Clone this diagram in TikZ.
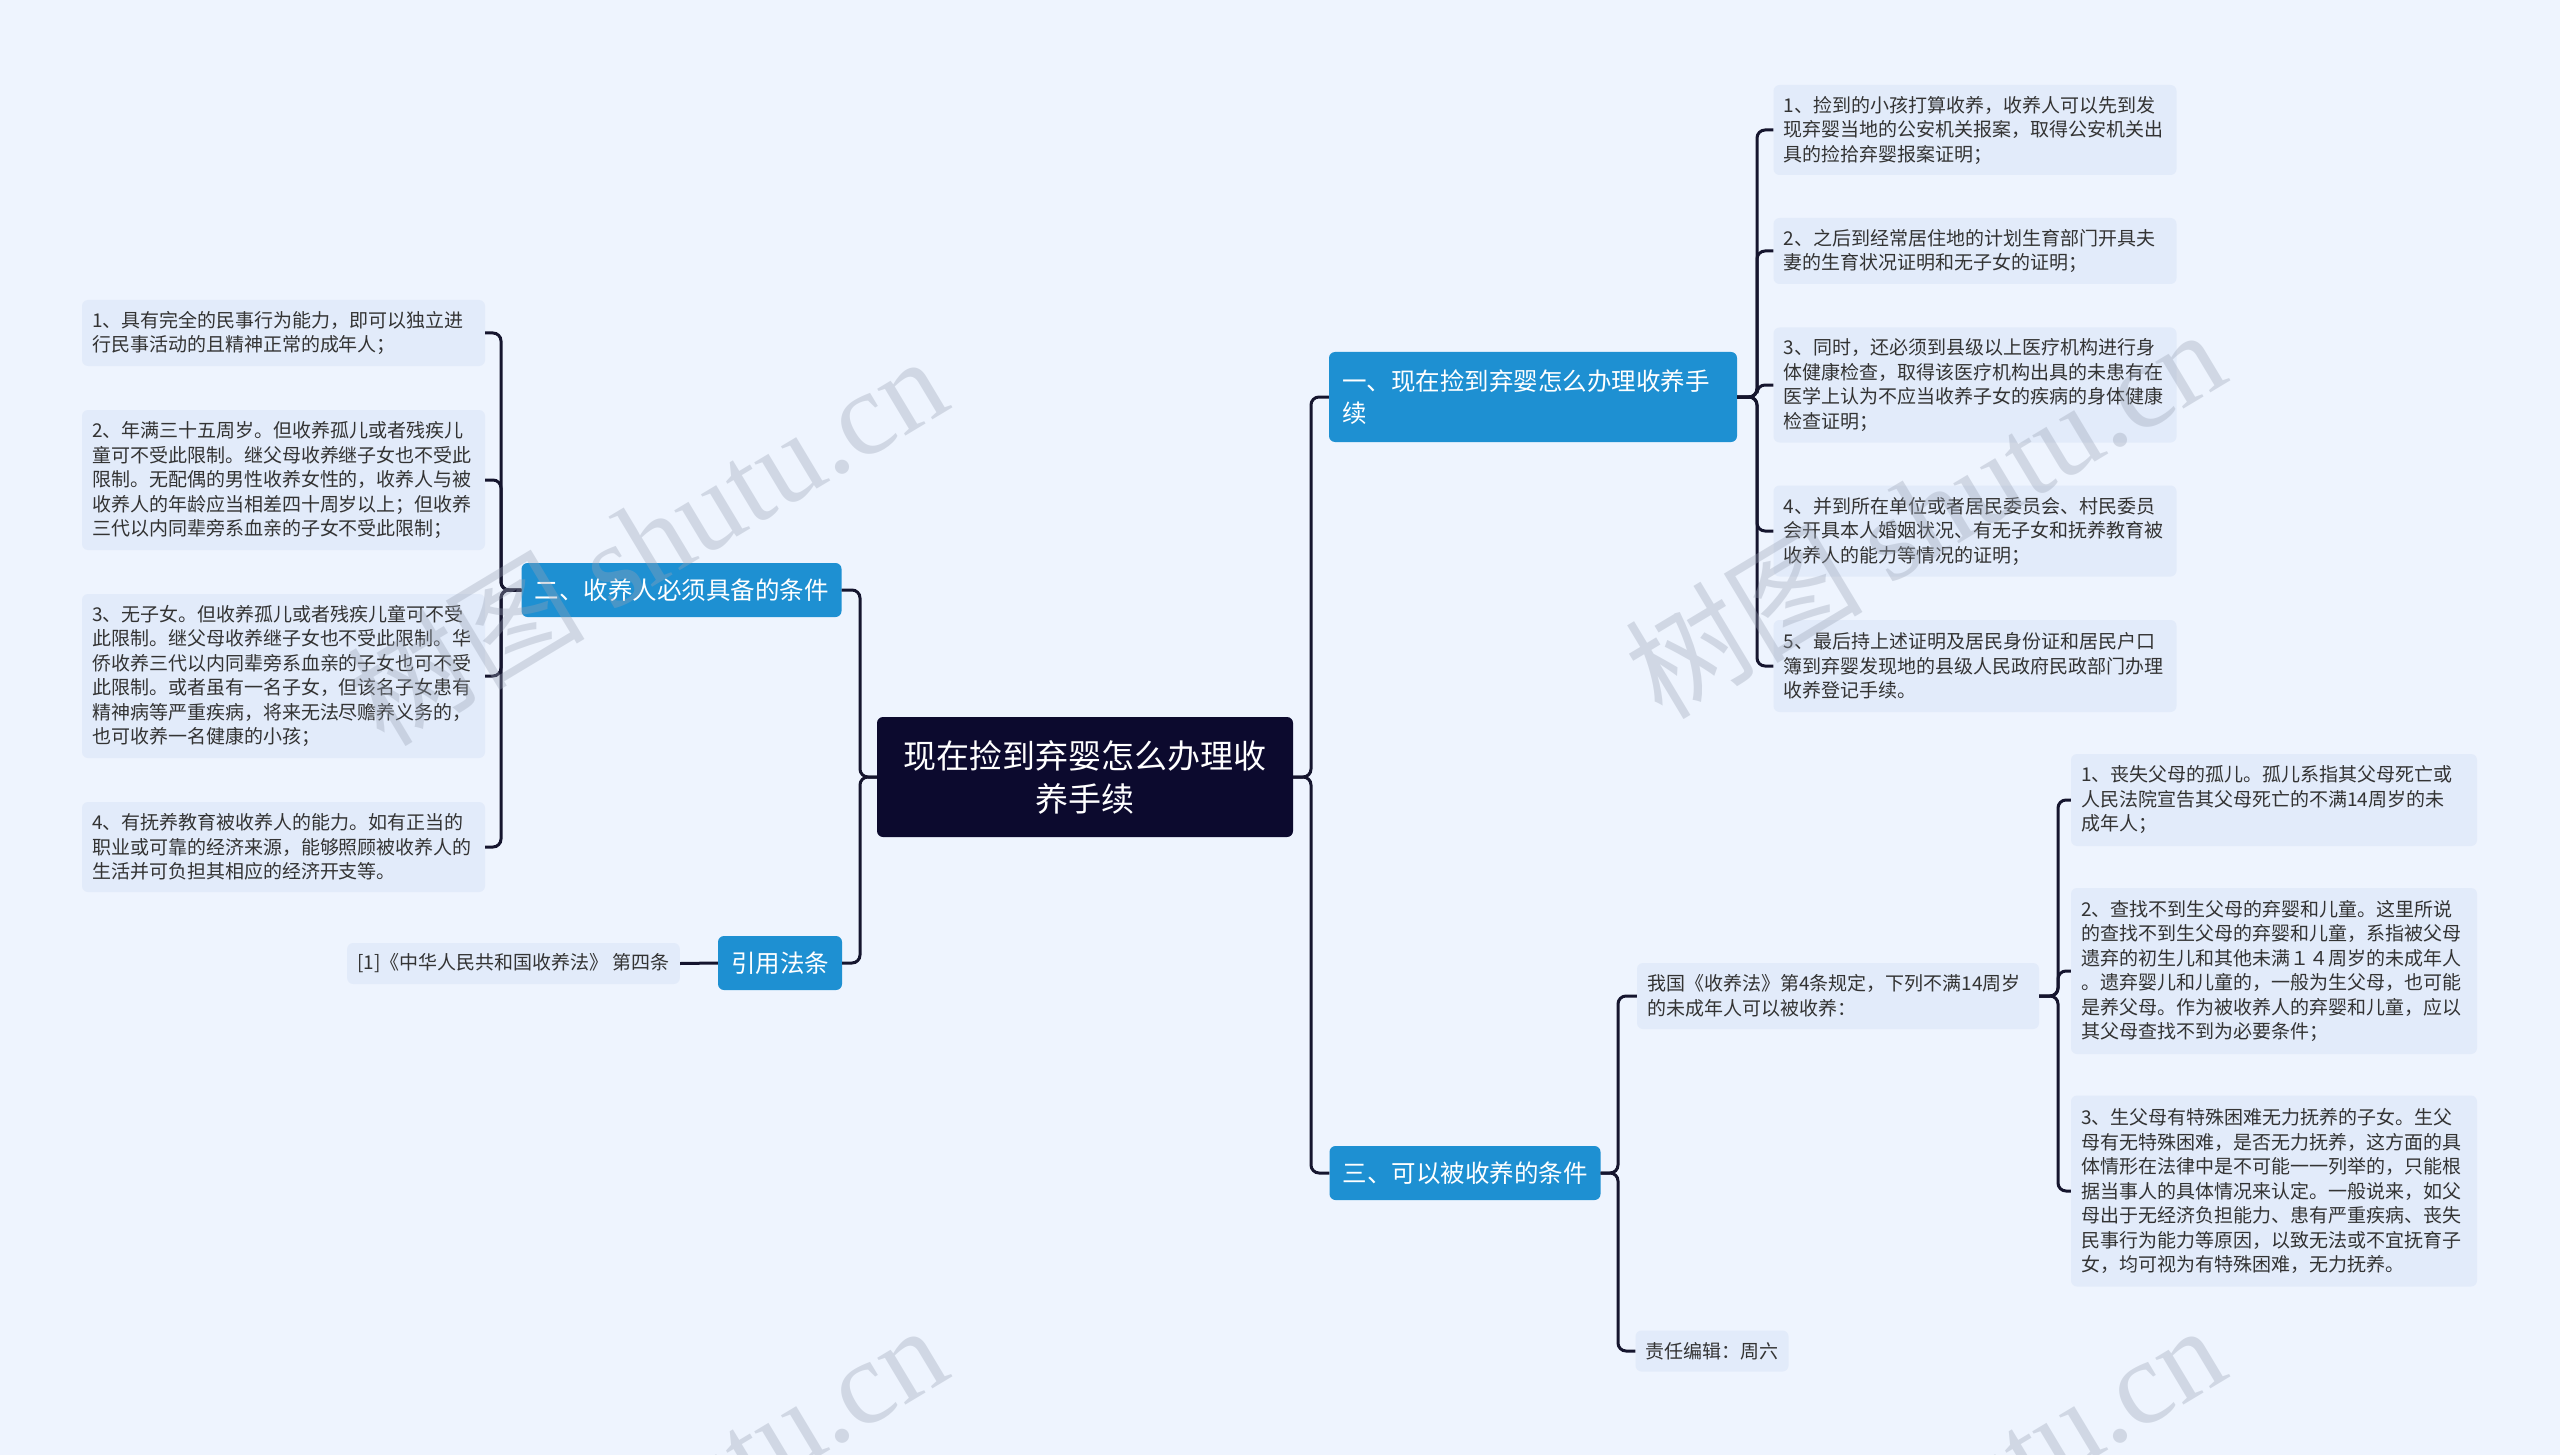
\documentclass[tikz,border=0pt]{standalone}
\usepackage{fontspec}
\setmainfont{Noto Sans CJK SC}
\newfontfamily\wmlatin{Liberation Serif}
\usepackage{xcolor}
\usepackage{tikz}
\definecolor{PageBg}{HTML}{EEF4FE}
\definecolor{LeafFill}{HTML}{E2EBFA}
\definecolor{LeafText}{HTML}{333333}
\definecolor{BranchBlue}{HTML}{1E90D2}
\definecolor{RootNavy}{HTML}{0C0A2E}
\definecolor{LineNavy}{HTML}{15152E}
\definecolor{MarkGray}{HTML}{9AA3B5}

\begin{document}
\begin{tikzpicture}[x=1pt, y=-1pt, root/.style={fill=RootNavy, text=white, rounded corners=6pt, minimum width=416pt, minimum height=120pt, align=center, font=\fontsize{33}{43}\selectfont}, branch/.style={fill=BranchBlue, text=white, rounded corners=6pt, inner xsep=13pt, minimum height=54pt, align=left, font=\fontsize{24.5}{32}\selectfont}, leaf/.style={fill=LeafFill, text=LeafText, rounded corners=6pt, inner xsep=10pt, text width=383pt, align=left, font=\fontsize{19}{24.5}\selectfont}, tag/.style={fill=LeafFill, text=LeafText, rounded corners=6pt, inner xsep=10pt, minimum height=41pt, font=\fontsize{19}{24.5}\selectfont}, conn/.style={draw=LineNavy, line width=3pt, rounded corners=8pt}, wm/.style={text=MarkGray, opacity=0.35, rotate=31, font=\fontsize{119}{119}\selectfont}]
\fill[PageBg] (0,0) rectangle (2560,1455);
\useasboundingbox (0,0) rectangle (2560,1455);
\node[root] (ctr) at (1085,777) {现在捡到弃婴怎么办理收\\养手续};
\node[branch, minimum width=408pt, minimum height=90pt, text width=382pt] (b1) at (1533,397) {一、现在捡到弃婴怎么办理收养手\\续};
\node[branch] (b2) at (681.5,590) {二、收养人必须具备的条件};
\node[branch] (b3) at (1465,1173) {三、可以被收养的条件};
\node[branch] (b4) at (780,963) {引用法条};
% left side
\node[leaf, minimum height=66pt] (l1) at (283.5,333) {1、具有完全的民事行为能力，即可以独立进\\行民事活动的且精神正常的成年人；};
\node[leaf, minimum height=140pt] (l2) at (283.5,480) {2、年满三十五周岁。但收养孤儿或者残疾儿\\童可不受此限制。继父母收养继子女也不受此\\限制。无配偶的男性收养女性的，收养人与被\\收养人的年龄应当相差四十周岁以上；但收养\\三代以内同辈旁系血亲的子女不受此限制；};
\node[leaf, minimum height=164pt] (l3) at (283.5,676) {3、无子女。但收养孤儿或者残疾儿童可不受\\此限制。继父母收养继子女也不受此限制。华\\侨收养三代以内同辈旁系血亲的子女也可不受\\此限制。或者虽有一名子女，但该名子女患有\\精神病等严重疾病，将来无法尽赡养义务的，\\也可收养一名健康的小孩；};
\node[leaf, minimum height=90pt] (l4) at (283.5,847) {4、有抚养教育被收养人的能力。如有正当的\\职业或可靠的经济来源，能够照顾被收养人的\\生活并可负担其相应的经济开支等。};
\node[tag] (cite) at (513.5,963.5) {[1]《中华人民共和国收养法》 第四条};
% right side, first branch
\node[leaf, minimum height=90pt] (r1) at (1975,130) {1、捡到的小孩打算收养，收养人可以先到发\\现弃婴当地的公安机关报案，取得公安机关出\\具的捡拾弃婴报案证明；};
\node[leaf, minimum height=66pt] (r2) at (1975,251) {2、之后到经常居住地的计划生育部门开具夫\\妻的生育状况证明和无子女的证明；};
\node[leaf, minimum height=115pt] (r3) at (1975,385) {3、同时，还必须到县级以上医疗机构进行身\\体健康检查，取得该医疗机构出具的未患有在\\医学上认为不应当收养子女的疾病的身体健康\\检查证明；};
\node[leaf, minimum height=91pt] (r4) at (1975,531) {4、并到所在单位或者居民委员会、村民委员\\会开具本人婚姻状况、有无子女和抚养教育被\\收养人的能力等情况的证明；};
\node[leaf, minimum height=92pt] (r5) at (1975,666) {5、最后持上述证明及居民身份证和居民户口\\簿到弃婴发现地的县级人民政府民政部门办理\\收养登记手续。};
% right side, third branch
\node[leaf, minimum height=66pt, text width=382pt] (sub) at (1838,996) {我国《收养法》第4条规定，下列不满14周岁\\的未成年人可以被收养：};
\node[tag] (ed) at (1712,1351) {责任编辑：周六};
\node[leaf, minimum height=92pt, text width=386pt] (c1) at (2274,800) {1、丧失父母的孤儿。孤儿系指其父母死亡或\\人民法院宣告其父母死亡的不满14周岁的未\\成年人；};
\node[leaf, minimum height=166pt, text width=386pt] (c2) at (2274,971) {2、查找不到生父母的弃婴和儿童。这里所说\\的查找不到生父母的弃婴和儿童，系指被父母\\遗弃的初生儿和其他未满１４周岁的未成年人\\。遗弃婴儿和儿童的，一般为生父母，也可能\\是养父母。作为被收养人的弃婴和儿童，应以\\其父母查找不到为必要条件；};
\node[leaf, minimum height=191pt, text width=386pt] (c3) at (2274,1191) {3、生父母有特殊困难无力抚养的子女。生父\\母有无特殊困难，是否无力抚养，这方面的具\\体情形在法律中是不可能一一列举的，只能根\\据当事人的具体情况来认定。一般说来，如父\\母出于无经济负担能力、患有严重疾病、丧失\\民事行为能力等原因，以致无法或不宜抚育子\\女，均可视为有特殊困难，无力抚养。};
% junctions
\coordinate (jR) at (1311,777);
\coordinate (jL) at (860,777);
\coordinate (jb1) at (1757,397);
\coordinate (jb2) at (501,590);
\coordinate (jb3) at (1618,1173);
\coordinate (jsub) at (2058,996);
\draw[conn] (ctr.east) -- (jR) |- (b1.west);
\draw[conn] (ctr.east) -- (jR) |- (b3.west);
\draw[conn] (ctr.west) -- (jL) |- (b2.east);
\draw[conn] (ctr.west) -- (jL) |- (b4.east);
\draw[conn] (b2.west) -- (jb2) |- (l1.east);
\draw[conn] (b2.west) -- (jb2) |- (l2.east);
\draw[conn] (b2.west) -- (jb2) |- (l3.east);
\draw[conn] (b2.west) -- (jb2) |- (l4.east);
\draw[conn] (b4.west) -- (cite.east);
\draw[conn] (b1.east) -- (jb1) |- (r1.west);
\draw[conn] (b1.east) -- (jb1) |- (r2.west);
\draw[conn] (b1.east) -- (jb1) |- (r3.west);
\draw[conn] (b1.east) -- (jb1) |- (r4.west);
\draw[conn] (b1.east) -- (jb1) |- (r5.west);
\draw[conn] (b3.east) -- (jb3) |- (sub.west);
\draw[conn] (b3.east) -- (jb3) |- (ed.west);
\draw[conn] (sub.east) -- (jsub) |- (c1.west);
\draw[conn] (sub.east) -- (jsub) |- (c2.west);
\draw[conn] (sub.east) -- (jsub) |- (c3.west);
% watermark
\begin{scope}
\clip (0,0) rectangle (2560,1455);
\node[wm] (wm1) at (646,539) {树图 {\wmlatin shutu.cn}};
\node[wm] (wm2) at (1924,512) {树图 {\wmlatin shutu.cn}};
\node[wm] (wm3) at (646,1508) {树图 {\wmlatin shutu.cn}};
\node[wm] (wm4) at (1924,1508) {树图 {\wmlatin shutu.cn}};
\end{scope}
\end{tikzpicture}
\end{document}
